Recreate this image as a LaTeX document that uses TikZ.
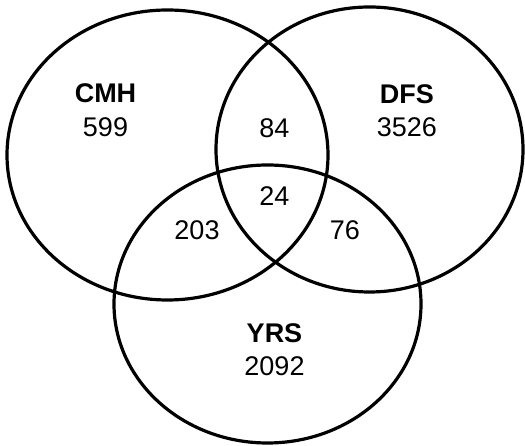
\documentclass[tikz,border=0pt]{standalone}
\usepackage{fontspec}
\setmainfont{Liberation Sans}
\begin{document}
\begin{tikzpicture}[x=1pt, y=1pt, line width=3.2pt,
  setname/.style={font=\fontsize{27}{31}\selectfont\bfseries, inner sep=0pt},
  count/.style={font=\fontsize{27}{31}\selectfont, inner sep=0pt}]
  \useasboundingbox (0,0) rectangle (525,446);
  \coordinate (C) at (167.5,291);
  \coordinate (D) at (369.5,296.5);
  \coordinate (Y) at (267.5,142);
  \draw (C) ellipse [x radius=160.5pt, y radius=145pt]; % CMH
  \draw (D) ellipse [x radius=153.5pt, y radius=142.5pt]; % DFS
  \draw (Y) ellipse [x radius=153.5pt, y radius=139pt]; % YRS
  \node[setname] (cmh) at (105.5,352.3) {CMH};
  \node[count] (cmhonly) at (105.5,319) {599};
  \node[setname] (dfs) at (406.8,351.6) {DFS};
  \node[count] (dfsonly) at (406.8,319) {3526};
  \node[setname] (yrs) at (274.5,113) {YRS};
  \node[count] (yrsonly) at (274.5,79.4) {2092};
  \node[count] (cd) at (274.5,318) {84};
  \node[count] (cdy) at (274.5,250) {24};
  \node[count] (cy) at (197,216) {203};
  \node[count] (dy) at (345,216) {76};
\end{tikzpicture}
\end{document}
